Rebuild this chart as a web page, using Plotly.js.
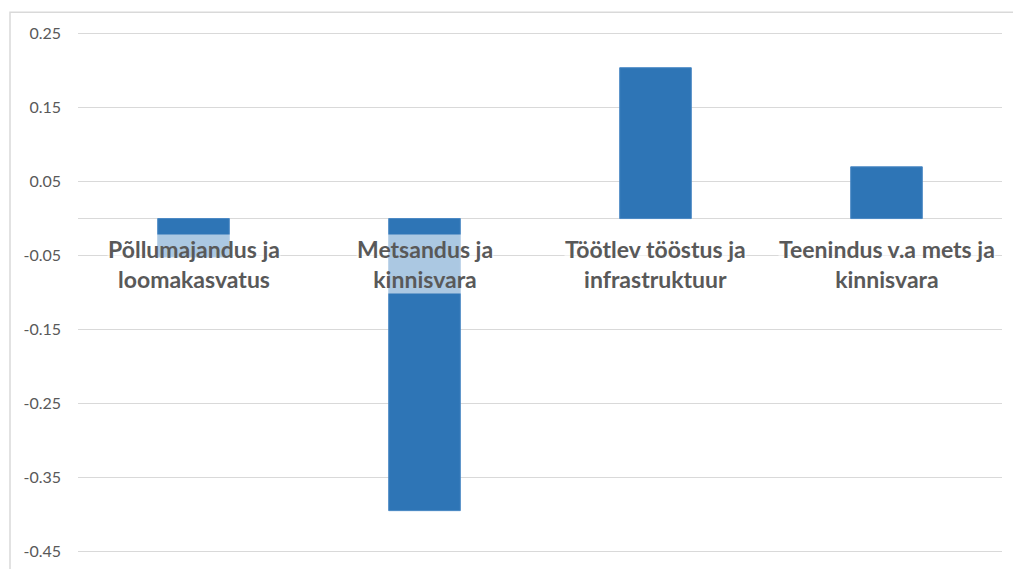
<!DOCTYPE html>
<html>
<head>
<meta charset="utf-8">
<script src="https://cdn.plot.ly/plotly-3.0.1.min.js"></script>
<style>html,body{margin:0;padding:0;background:#fff;}#chart{width:1013px;height:569px;}</style>
</head>
<body>
<div id="chart"></div>
<script>
const categories = ["Põllumajandus ja loomakasvatus", "Metsandus ja kinnisvara", "Töötlev tööstus ja infrastruktuur", "Teenindus v.a mets ja kinnisvara"];
const categoryLabels = ["Põllumajandus ja<br>loomakasvatus", "Metsandus ja<br>kinnisvara", "Töötlev tööstus ja<br>infrastruktuur", "Teenindus v.a mets ja<br>kinnisvara"];
const values = [-0.052, -0.395, 0.204, 0.070];
const tickVals = [0.25, 0.15, 0.05, -0.05, -0.15, -0.25, -0.35, -0.45];
const tickText = ["0.25", "0.15", "0.05", "-0.05", "-0.15", "-0.25", "-0.35", "-0.45"];

const trace = {
  type: "bar",
  x: categories,
  y: values,
  width: 0.31,
  marker: {color: "#2e75b6", line: {color: "#4a88c4", width: 1}},
  hoverinfo: "none"
};

const annotations = categories.map((c, i) => ({
  x: c, y: 0, xref: "x", yref: "y",
  text: categoryLabels[i],
  showarrow: false,
  yanchor: "top",
  xanchor: "center",
  yshift: -15,
  font: {family: "Lato", size: 23, color: "#595959", weight: "bold"},
  bgcolor: "rgba(255,255,255,0.6)",
  borderpad: 0
}));

const layout = {
  width: 1013, height: 569,
  margin: {l: 78, r: 11, t: 30, b: 14},
  paper_bgcolor: "#fff", plot_bgcolor: "#fff",
  showlegend: false,
  xaxis: {showticklabels: false, showgrid: false, zeroline: false, showline: false, ticks: ""},
  yaxis: {
    range: [-0.455, 0.255],
    tickmode: "array", tickvals: tickVals, ticktext: tickText,
    showgrid: true, gridcolor: "#d9d9d9", gridwidth: 1.5,
    zeroline: true, zerolinecolor: "#d9d9d9", zerolinewidth: 1.5,
    showline: false, ticks: "", ticklabelstandoff: 16,
    tickfont: {family: "Lato", size: 16, color: "#595959"}
  },
  annotations: annotations,
  shapes: [{
    type: "rect", xref: "paper", yref: "paper", layer: "below",
    x0: -0.0736, x1: 1.05, y0: -0.2, y1: 1.034,
    line: {color: "#d9d9d9", width: 1.5}, fillcolor: "rgba(0,0,0,0)"
  }]
};

Plotly.newPlot("chart", [trace], layout, {displayModeBar: false, staticPlot: true});
</script>
</body>
</html>
